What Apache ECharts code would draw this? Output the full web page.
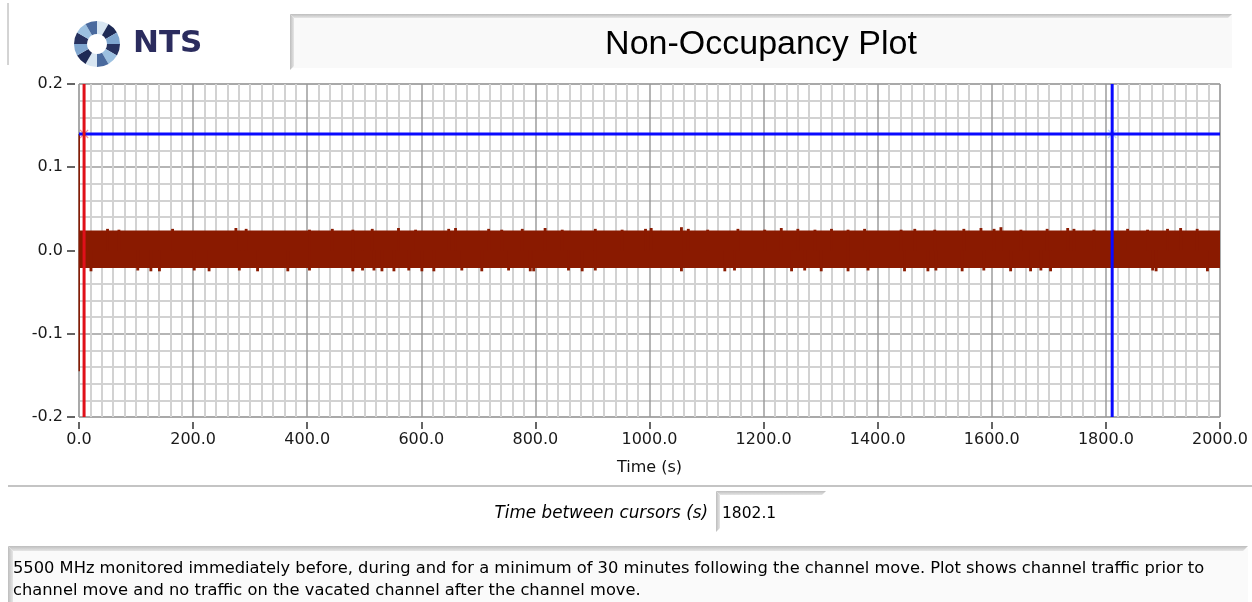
<!DOCTYPE html>
<html>
<head>
<meta charset="utf-8">
<title>Non-Occupancy Plot</title>
<script src="https://cdn.jsdelivr.net/npm/echarts@6/dist/echarts.min.js"></script>
<style>
  html, body { margin: 0; padding: 0; background: #fff; }
  #chart { width: 1252px; height: 602px; }
</style>
</head>
<body>
<div id="chart"></div>
<script>
"use strict";

// steady noise band: [start s, end s, low, high]
var bandSpan = [[0, 2000, -0.021, 0.024]];

// peaks poking out of the band
var peakUpTime = [50, 70, 164, 275, 293, 404, 444, 480, 514, 560, 590, 648, 660, 718, 741, 777, 817, 847, 905, 952, 993,
    1003, 1056, 1068, 1102, 1155, 1202, 1231, 1260, 1290, 1319, 1348, 1377, 1441, 1465, 1500,
    1551, 1581, 1604, 1616, 1651, 1697, 1733, 1744, 1779, 1838, 1873, 1908, 1931, 1960];
var peakUpValue = [0.026, 0.025, 0.026, 0.027, 0.026, 0.025, 0.026, 0.025, 0.026, 0.027,
    0.025, 0.026, 0.027, 0.026, 0.025, 0.026, 0.027, 0.025, 0.026, 0.025,
    0.026, 0.027, 0.028, 0.026, 0.025, 0.026, 0.025, 0.027, 0.026, 0.025,
    0.026, 0.025, 0.026, 0.025, 0.026, 0.025, 0.026, 0.027, 0.026, 0.028,
    0.025, 0.026, 0.027, 0.026, 0.025, 0.026, 0.025, 0.026, 0.027, 0.026];
var peakDownTime = [21, 103, 126, 141, 202, 228, 281, 313, 366, 404, 480, 497,
    517, 531, 552, 578, 601, 622, 671, 706, 753, 791, 797, 858, 882, 905,
    1056, 1132, 1149, 1249, 1272, 1301, 1348, 1383, 1447, 1488,
    1502, 1548, 1586, 1633, 1668, 1686, 1703, 1882, 1888, 1978];
var peakDownValue = [-0.025, -0.024, -0.025, -0.025, -0.024, -0.025, -0.024, -0.025, -0.025, -0.024,
    -0.025, -0.024, -0.024, -0.025, -0.025, -0.024, -0.025, -0.025, -0.024, -0.025,
    -0.024, -0.025, -0.025, -0.024, -0.025, -0.024, -0.025, -0.025, -0.024, -0.025,
    -0.024, -0.025, -0.025, -0.024, -0.025, -0.025, -0.024, -0.025, -0.024, -0.025,
    -0.025, -0.024, -0.025, -0.024, -0.025, -0.025];

// short transient at the very start of the record
var startTime = [0.4, 0.4];
var startValue = [0.14, -0.145];

// cursors
var cursorTime = [8.9, 1811.0];
var cursorLevel = 0.14;
var cursorGap = '1802.1';

var descLines = [
    '5500 MHz monitored immediately before, during and for a minimum of 30 minutes following the channel move. Plot shows channel traffic prior to',
    'channel move and no traffic on the vacated channel after the channel move.'
];

var bandColor = '#8A1A00';
var uiFont = '"DejaVu Sans", sans-serif';

var chart = echarts.init(document.getElementById('chart'));

function fmt(v) {
    if (Math.abs(v) < 1e-9) v = 0;
    return v.toFixed(1);
}

function rectItem(x0, y0, x1, y1, api) {
    var a = api.coord([x0, y1]);
    var b = api.coord([x1, y0]);
    return {
        type: 'rect',
        shape: { x: a[0], y: a[1], width: Math.max(b[0] - a[0], 2), height: b[1] - a[1] },
        style: { fill: bandColor }
    };
}

var peaks = [];
peakUpTime.forEach(function (t, i) { peaks.push([t, 0, peakUpValue[i]]); });
peakDownTime.forEach(function (t, i) { peaks.push([t, peakDownValue[i], 0]); });

// logo ring
var logoColors = ['#27325F', '#9CC0E0', '#4A6A9E', '#D8E6F2', '#1E2A55', '#7FA6CF'];
var logo = [];
for (var k = 0; k < 12; k++) {
    logo.push({
        type: 'sector',
        shape: { cx: 97, cy: 44, r: 23, r0: 10, startAngle: k * Math.PI / 6, endAngle: (k + 1) * Math.PI / 6 },
        style: { fill: logoColors[k % logoColors.length] },
        silent: true
    });
}

function bevel(x0, y0, x1, y1, depth) {
    return [
        {
            type: 'polygon',
            shape: { points: [[x0, y0], [x1, y0], [x1 - depth, y0 + depth], [x0 + depth, y0 + depth]] },
            style: {
                fill: new echarts.graphic.LinearGradient(0, 0, 0, 1, [
                    { offset: 0, color: '#BDBDBD' }, { offset: 1, color: '#E6E6E6' }
                ])
            },
            silent: true
        },
        {
            type: 'polygon',
            shape: { points: [[x0, y0], [x0 + depth, y0 + depth], [x0 + depth, y1], [x0, y1 + depth]] },
            style: {
                fill: new echarts.graphic.LinearGradient(0, 0, 1, 0, [
                    { offset: 0, color: '#BDBDBD' }, { offset: 1, color: '#E6E6E6' }
                ])
            },
            silent: true
        }
    ];
}

var graphics = [
    { type: 'line', shape: { x1: 8, y1: 3, x2: 8, y2: 65 }, style: { stroke: '#A8A8A8', lineWidth: 1 }, silent: true },
    { type: 'rect', shape: { x: 290, y: 14, width: 942, height: 54 }, style: { fill: '#F9F9F9' }, silent: true }
].concat(bevel(290, 14, 1232, 66, 4)).concat(logo).concat([
    {
        type: 'text', x: 133, y: 44,
        style: {
            text: 'NTS', font: 'bold 31px "DejaVu Sans", sans-serif', fill: '#2B2C5E',
            align: 'left', verticalAlign: 'middle', textAlign: 'left', textVerticalAlign: 'middle'
        },
        silent: true
    },
    {
        type: 'text', x: 761, y: 45,
        style: {
            text: 'Non-Occupancy Plot', font: '34px "Liberation Sans", Arial, sans-serif', fill: '#000',
            align: 'center', verticalAlign: 'middle', textAlign: 'center', textVerticalAlign: 'middle'
        },
        silent: true
    },
    // lower panels
    { type: 'line', shape: { x1: 8, y1: 486, x2: 1252, y2: 486 }, style: { stroke: '#C4C4C4', lineWidth: 2 }, silent: true },
    { type: 'rect', shape: { x: 8, y: 548, width: 1240, height: 54 }, style: { fill: '#FAFAFA' }, silent: true }
]).concat(bevel(716, 491, 826, 528, 4)).concat(bevel(8, 546, 1248, 602, 5)).concat([
    {
        type: 'text', x: 708, y: 514,
        style: {
            text: 'Time between cursors (s)', font: 'italic 16.8px ' + uiFont, fill: '#000',
            align: 'right', verticalAlign: 'middle', textAlign: 'right', textVerticalAlign: 'middle'
        },
        silent: true
    },
    {
        type: 'text', x: 722, y: 514,
        style: {
            text: cursorGap, font: '15.5px ' + uiFont, fill: '#000',
            align: 'left', verticalAlign: 'middle', textAlign: 'left', textVerticalAlign: 'middle'
        },
        silent: true
    },
    {
        type: 'text', x: 13, y: 569,
        style: {
            text: descLines[0], font: '16.3px ' + uiFont, fill: '#000',
            align: 'left', verticalAlign: 'middle', textAlign: 'left', textVerticalAlign: 'middle'
        },
        silent: true
    },
    {
        type: 'text', x: 13, y: 591,
        style: {
            text: descLines[1], font: '16.3px ' + uiFont, fill: '#000',
            align: 'left', verticalAlign: 'middle', textAlign: 'left', textVerticalAlign: 'middle'
        },
        silent: true
    }
]);

var xMark = 'path://M0,1L1,0L5,4L9,0L10,1L6,5L10,9L9,10L5,6L1,10L0,9L4,5Z';

var option = {
    animation: false,
    backgroundColor: '#fff',
    grid: {
        left: 79, right: 32, top: 84, bottom: 185,
        show: true, backgroundColor: '#fff', borderColor: '#9C9C9C', borderWidth: 1,
        outerBoundsMode: 'none'
    },
    xAxis: {
        type: 'value', min: 0, max: 2000, interval: 200, offset: 5,
        axisLine: { show: true, onZero: false, lineStyle: { color: 'rgba(0,0,0,0)' } },
        axisTick: { show: true, length: 7, lineStyle: { color: '#333', width: 1.5 } },
        axisLabel: { margin: 10, formatter: fmt, color: '#1a1a1a', fontSize: 16, fontFamily: uiFont },
        splitLine: { show: true, lineStyle: { color: '#9C9C9C', width: 1.5 } },
        minorTick: { show: false, splitNumber: 10 },
        minorSplitLine: { show: true, lineStyle: { color: '#D2D2D2', width: 2 } },
        name: 'Time (s)', nameLocation: 'middle', nameGap: 38,
        nameTextStyle: { color: '#111', fontSize: 16, fontFamily: uiFont }
    },
    yAxis: {
        type: 'value', min: -0.2, max: 0.2, interval: 0.1, offset: 4,
        axisLine: { show: true, onZero: false, lineStyle: { color: 'rgba(0,0,0,0)' } },
        axisTick: { show: true, length: 8, lineStyle: { color: '#333', width: 1.5 } },
        axisLabel: { margin: 12, formatter: fmt, color: '#1a1a1a', fontSize: 16, fontFamily: uiFont },
        splitLine: { show: true, lineStyle: { color: '#9C9C9C', width: 1.5 } },
        minorTick: { show: false, splitNumber: 5 },
        minorSplitLine: { show: true, lineStyle: { color: '#D2D2D2', width: 2 } }
    },
    graphic: graphics,
    series: [
        {
            type: 'custom', silent: true, clip: true,
            data: bandSpan,
            encode: { x: [0, 1], y: [2, 3] },
            renderItem: function (params, api) {
                return rectItem(api.value(0), api.value(2), api.value(1), api.value(3), api);
            }
        },
        {
            type: 'custom', silent: true, clip: true,
            data: peaks,
            encode: { x: 0, y: [1, 2] },
            renderItem: function (params, api) {
                var t = api.value(0);
                return rectItem(t - 2.5, api.value(1), t + 2.5, api.value(2), api);
            }
        },
        {
            type: 'line', silent: true, symbol: 'none',
            data: startTime.map(function (t, i) { return [t, startValue[i]]; }),
            lineStyle: { color: bandColor, width: 1.5 }
        },
        {
            type: 'line', silent: true, symbol: 'none',
            data: [[0, cursorLevel], [2000, cursorLevel]],
            lineStyle: { color: '#0A0AFF', width: 3 }
        },
        {
            type: 'line', silent: true, symbol: 'none',
            data: [[cursorTime[0], -0.2], [cursorTime[0], 0.2]],
            lineStyle: { color: '#E0101A', width: 3 }
        },
        {
            type: 'line', silent: true, symbol: 'none',
            data: [[cursorTime[1], -0.2], [cursorTime[1], 0.2]],
            lineStyle: { color: '#0A0AFF', width: 3 }
        },
        {
            type: 'scatter', silent: true, symbol: xMark, symbolSize: 9,
            data: [[cursorTime[0], cursorLevel]],
            itemStyle: { color: '#F07080' }
        },
        {
            type: 'scatter', silent: true, symbol: xMark, symbolSize: 9,
            data: [[cursorTime[1], cursorLevel]],
            itemStyle: { color: '#B0CCFF' }
        }
    ]
};

chart.setOption(option);
</script>
</body>
</html>
